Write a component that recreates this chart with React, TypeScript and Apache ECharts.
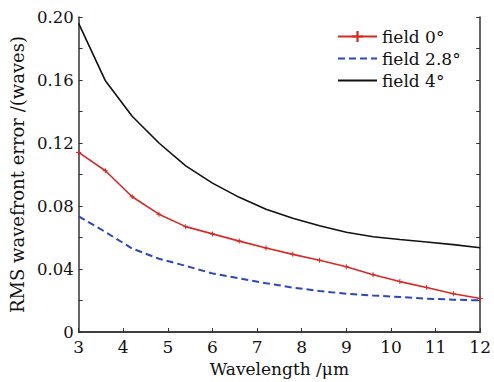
import React, { useEffect, useRef } from "react";
import * as echarts from "echarts";

const wavelengths = [3, 3.6, 4.2, 4.8, 5.4, 6.0, 6.6, 7.2, 7.8, 8.4, 9.0, 9.6, 10.2, 10.8, 11.4, 12];
const field0 = [0.114, 0.1024, 0.0859, 0.0748, 0.0669, 0.0623, 0.0577, 0.0533, 0.0493, 0.0456, 0.0414, 0.0364, 0.032, 0.0282, 0.0243, 0.0213];
const field28 = [0.0734, 0.0635, 0.053, 0.0465, 0.042, 0.0372, 0.034, 0.031, 0.0282, 0.026, 0.0243, 0.0232, 0.0222, 0.0212, 0.0205, 0.0201];
const field4 = [0.196, 0.1595, 0.137, 0.12, 0.1055, 0.0945, 0.0855, 0.078, 0.0722, 0.0675, 0.0633, 0.0605, 0.0587, 0.0571, 0.0555, 0.0535];
const seriesNames = ["field 0°", "field 2.8°", "field 4°"];

const FONT = "DejaVu Serif";
const AXIS_COLOR = "#333";

function pairs(vals: number[]) {
  return wavelengths.map((w, i) => [w, vals[i]]);
}

export default function App() {
  const ref = useRef<HTMLDivElement>(null);
  useEffect(() => {
    if (!ref.current) return;
    const chart = echarts.init(ref.current, null, { renderer: "svg" });
    const axisLine = { show: true, lineStyle: { color: AXIS_COLOR, width: 1.5 } };
    chart.setOption({
      animation: false,
      backgroundColor: "#fff",
      textStyle: { fontFamily: FONT },
      grid: { left: 77, right: 12, top: 17, bottom: 46 },
      legend: {
        orient: "vertical",
        left: 332,
        top: 23,
        itemWidth: 39,
        itemHeight: 14,
        itemGap: 5,
        textStyle: { fontFamily: FONT, fontSize: 17, color: "#111" },
        data: [
          { name: seriesNames[0] },
          { name: seriesNames[1], itemStyle: { opacity: 0 } },
          { name: seriesNames[2], itemStyle: { opacity: 0 } },
        ],
      },
      xAxis: [
        {
          type: "value",
          min: 3,
          max: 12,
          interval: 1,
          name: "Wavelength /μm",
          nameLocation: "middle",
          nameGap: 28,
          nameTextStyle: { fontFamily: FONT, fontSize: 17, color: "#111" },
          axisLine,
          axisTick: { show: true, inside: true, length: 4, lineStyle: { color: AXIS_COLOR } },
          axisLabel: { fontFamily: FONT, fontSize: 17, color: "#111", margin: 6 },
          splitLine: { show: false },
        },
        {
          type: "value",
          position: "top",
          min: 3,
          max: 12,
          interval: 1,
          axisLine,
          axisTick: { show: false },
          axisLabel: { show: false },
          splitLine: { show: false },
        },
      ],
      yAxis: [
        {
          type: "value",
          min: 0,
          max: 0.2,
          interval: 0.02,
          name: "RMS wavefront error /(waves)",
          nameLocation: "middle",
          nameGap: 47,
          nameTextStyle: { fontFamily: FONT, fontSize: 18, color: "#111" },
          axisLine,
          axisTick: { show: true, inside: true, length: 4, lineStyle: { color: AXIS_COLOR } },
          axisLabel: {
            fontFamily: FONT,
            fontSize: 16.5,
            color: "#111",
            margin: 5,
            formatter: (v: number) => {
              const k = Math.round(v * 100);
              if (k % 4 !== 0) return "";
              return k === 0 ? "0" : v.toFixed(2);
            },
          },
          splitLine: { show: false },
        },
        {
          type: "value",
          position: "right",
          min: 0,
          max: 0.2,
          interval: 0.02,
          axisLine,
          axisTick: { show: true, inside: true, length: 4, lineStyle: { color: AXIS_COLOR } },
          axisLabel: { show: false },
          splitLine: { show: false },
        },
      ],
      series: [
        {
          name: seriesNames[0],
          type: "line",
          data: pairs(field0),
          symbol: "path://M4 0h2v4h4v2h-4v4h-2v-4h-4v-2h4z",
          symbolSize: 5,
          itemStyle: { color: "#d62a22" },
          lineStyle: { color: "#d62a22", width: 1.6 },
        },
        {
          name: seriesNames[1],
          type: "line",
          data: pairs(field28),
          symbol: "none",
          itemStyle: { color: "#2a48c0" },
          lineStyle: { color: "#2a48c0", width: 2, type: [7, 4] },
        },
        {
          name: seriesNames[2],
          type: "line",
          data: pairs(field4),
          symbol: "none",
          itemStyle: { color: "#111" },
          lineStyle: { color: "#111", width: 1.6 },
        },
      ],
    });
    return () => chart.dispose();
  }, []);
  return (
    <div
      ref={ref}
      style={{ position: "fixed", left: 0, top: 0, width: 494, height: 382 }}
    />
  );
}
